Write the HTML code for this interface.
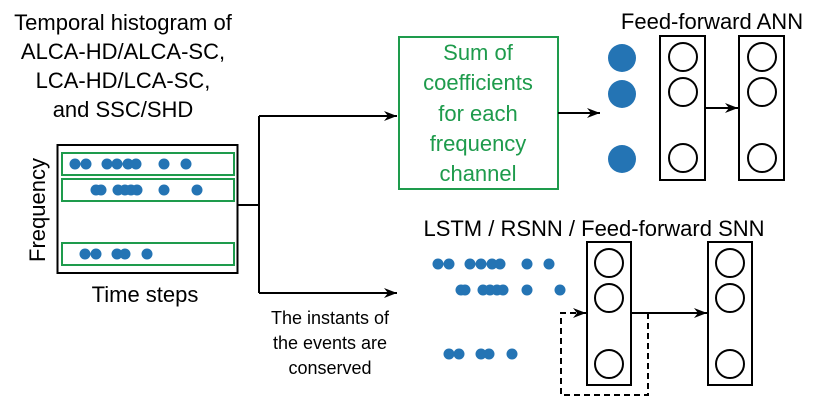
<!DOCTYPE html>
<html><head><meta charset="utf-8"><style>body{margin:0;background:#fff}svg{display:block}text{font-family:"Liberation Sans",sans-serif}</style></head><body>
<svg width="831" height="403" viewBox="0 0 831 403" xmlns="http://www.w3.org/2000/svg">
<defs><marker id="a" markerWidth="14" markerHeight="12" refX="13" refY="6" orient="auto" markerUnits="userSpaceOnUse"><path d="M0,1 L13,6 L0,11 L4,6 z" fill="#000"/></marker></defs>
<g font-size="22" text-anchor="middle" fill="#000">
<text x="123" y="30">Temporal histogram of</text>
<text x="123" y="59">ALCA-HD/ALCA-SC,</text>
<text x="123" y="88">LCA-HD/LCA-SC,</text>
<text x="123" y="117">and SSC/SHD</text>
<text x="145" y="302">Time steps</text>
<text transform="translate(45,210) rotate(-90)">Frequency</text>
<text x="712" y="29">Feed-forward ANN</text>
<text x="594" y="236">LSTM / RSNN / Feed-forward SNN</text>
</g>
<g font-size="18" text-anchor="middle"><text x="330" y="324">The instants of</text><text x="330" y="349">the events are</text><text x="330" y="374">conserved</text></g>
<g font-size="22" text-anchor="middle" fill="#1e9b4c">
<text x="478" y="60">Sum of</text><text x="478" y="90">coefficients</text><text x="478" y="121">for each</text><text x="478" y="151">frequency</text><text x="478" y="181">channel</text></g>
<rect x="57.5" y="145" width="180" height="128" fill="none" stroke="#000" stroke-width="2"/>
<g fill="none" stroke="#1e9b4c" stroke-width="2"><rect x="62" y="153" width="172" height="22"/><rect x="62" y="179" width="172" height="22"/><rect x="62" y="243" width="172" height="22"/><rect x="399" y="37" width="159" height="152"/></g>
<g fill="#2474b4">
<circle cx="75" cy="164" r="5.5"/><circle cx="86" cy="164" r="5.5"/><circle cx="107" cy="164" r="5.5"/><circle cx="117" cy="164" r="5.5"/><circle cx="128" cy="164" r="5.5"/><circle cx="136" cy="164" r="5.5"/><circle cx="164" cy="164" r="5.5"/><circle cx="186" cy="164" r="5.5"/>
<circle cx="96" cy="190" r="5.5"/><circle cx="101" cy="190" r="5.5"/><circle cx="118" cy="190" r="5.5"/><circle cx="125" cy="190" r="5.5"/><circle cx="131" cy="190" r="5.5"/><circle cx="137" cy="190" r="5.5"/><circle cx="164" cy="190" r="5.5"/><circle cx="197" cy="190" r="5.5"/>
<circle cx="85" cy="254" r="5.5"/><circle cx="96" cy="254" r="5.5"/><circle cx="117" cy="254" r="5.5"/><circle cx="125" cy="254" r="5.5"/><circle cx="147" cy="254" r="5.5"/>
<circle cx="438" cy="264" r="5.5"/><circle cx="449" cy="264" r="5.5"/><circle cx="470" cy="264" r="5.5"/><circle cx="481" cy="264" r="5.5"/><circle cx="492" cy="264" r="5.5"/><circle cx="500" cy="264" r="5.5"/><circle cx="527" cy="264" r="5.5"/><circle cx="549" cy="264" r="5.5"/>
<circle cx="461" cy="290" r="5.5"/><circle cx="465" cy="290" r="5.5"/><circle cx="483" cy="290" r="5.5"/><circle cx="490" cy="290" r="5.5"/><circle cx="497" cy="290" r="5.5"/><circle cx="503" cy="290" r="5.5"/><circle cx="527" cy="290" r="5.5"/><circle cx="560" cy="290" r="5.5"/>
<circle cx="449" cy="354" r="5.5"/><circle cx="459" cy="354" r="5.5"/><circle cx="481" cy="354" r="5.5"/><circle cx="489" cy="354" r="5.5"/><circle cx="512" cy="354" r="5.5"/>
<circle cx="622" cy="58" r="14"/><circle cx="622" cy="94" r="14"/><circle cx="622" cy="159" r="14"/></g>
<g fill="none" stroke="#000" stroke-width="2">
<path d="M238,205 H259 M259,116 V293"/>
<path d="M259,116 H397" marker-end="url(#a)"/>
<path d="M259,293 H397" marker-end="url(#a)"/>
<path d="M558,113 H600" marker-end="url(#a)"/>
<rect x="660" y="36" width="45" height="144"/><rect x="739" y="36" width="45" height="144"/>
<circle cx="683" cy="57" r="14"/><circle cx="683" cy="92" r="14"/><circle cx="683" cy="158" r="14"/>
<circle cx="762" cy="57" r="14"/><circle cx="762" cy="92" r="14"/><circle cx="762" cy="158" r="14"/>
<path d="M705,108 H738" marker-end="url(#a)"/>
<rect x="587" y="242" width="44" height="143"/><rect x="708" y="242" width="44" height="143"/>
<circle cx="609" cy="263" r="14"/><circle cx="609" cy="298" r="14"/><circle cx="609" cy="364" r="14"/>
<circle cx="730" cy="263" r="14"/><circle cx="730" cy="298" r="14"/><circle cx="730" cy="364" r="14"/>
<path d="M631,313 H707" marker-end="url(#a)"/>
<path d="M648,313 V395 H561 V313 H586" stroke-dasharray="6,4" marker-end="url(#a)"/>
</g>
</svg>
</body></html>
